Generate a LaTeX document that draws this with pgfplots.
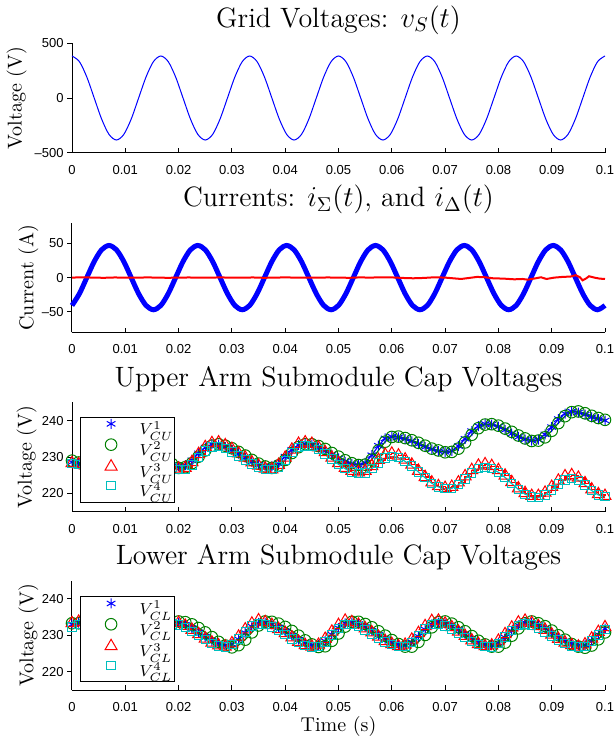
\documentclass[border=0pt]{standalone}
\usepackage{fontspec}
\usepackage{pgfplots}
\pgfplotsset{compat=1.18}
\usepackage{pgfplotstable}
\newfontfamily\tickfont{Liberation Sans}
\definecolor{mb}{rgb}{0,0,1}
\definecolor{mg}{rgb}{0,0.5,0}
\definecolor{mr}{rgb}{1,0,0}
\definecolor{mc}{rgb}{0,0.75,0.75}
\newcommand\legtext[1]{\makebox[17.5pt][l]{\smash{#1}}\rule[-2.1pt]{0pt}{9.6pt}}
\pgfplotsset{
  myaxis/.style={
    scale only axis, width=266.5pt, height=54.7pt,
    xmin=0, xmax=0.1,
    axis x line*=bottom, axis y line*=left,
    axis line style={line width=0.5pt, black},
    tick align=inside, major tick length=2.4pt,
    tick style={line width=0.5pt, black},
    ytick style={xshift=-2.4pt},
    xtick={0,0.01,0.02,0.03,0.04,0.05,0.06,0.07,0.08,0.09,0.1},
    xticklabels={0,0.01,0.02,0.03,0.04,0.05,0.06,0.07,0.08,0.09,0.1},
    tick label style={font=\tickfont\fontsize{6.5}{7.5}\selectfont},
    xticklabel style={yshift=-2.65pt},
    yticklabel style={xshift=-0.65pt},
    clip=false,
    every axis title/.style={at={(axis description cs:0.5,1)}, anchor=base, yshift=8pt, font=\fontsize{14}{16}\selectfont},
    label style={font=\fontsize{11.8}{13}\selectfont},
    legend cell align=left,
    legend image code/.code={\draw[##1] plot[only marks] coordinates {(0pt,2.7pt)}; \path (-15pt,0pt) (14pt,0pt);},
    legend style={anchor=north west, draw=black, line width=0.5pt, fill=white, inner xsep=0pt, inner ysep=0.8pt, row sep=0pt, column sep=0pt, nodes={inner sep=0pt, text depth=}, font=\fontsize{8}{8.5}\selectfont},
  },
  s1/.style={mb, line width=0.6pt, mark=asterisk, mark size=2.5pt, mark options={solid, line width=0.5pt}},
  s2/.style={mg, line width=0.6pt, mark=o, mark size=2.9pt, mark options={solid, line width=0.5pt}},
  s3/.style={mr, line width=0.6pt, const plot, mark=triangle, mark size=3.45pt, mark options={solid, line width=0.5pt}},
  s4/.style={mc, line width=0.6pt, mark=square, mark size=2.1pt, mark options={solid, line width=0.5pt}},
}
\begin{document}
\pgfplotstableread{
t v i
0 384 -40.7
0.001389 332.6 -23.5
0.002778 192 0
0.004167 0 23.5
0.005556 -192 40.7
0.006944 -332.6 47
0.008333 -384 40.7
0.009722 -332.6 23.5
0.011111 -192 0
0.0125 0 -23.5
0.013889 192 -40.7
0.015278 332.6 -47
0.016667 384 -40.7
0.018056 332.6 -23.5
0.019444 192 0
0.020833 0 23.5
0.022222 -192 40.7
0.023611 -332.6 47
0.025 -384 40.7
0.026389 -332.6 23.5
0.027778 -192 0
0.029167 0 -23.5
0.030556 192 -40.7
0.031944 332.6 -47
0.033333 384 -40.7
0.034722 332.6 -23.5
0.036111 192 0
0.0375 0 23.5
0.038889 -192 40.7
0.040278 -332.6 47
0.041667 -384 40.7
0.043056 -332.6 23.5
0.044444 -192 0
0.045833 0 -23.5
0.047222 192 -40.7
0.048611 332.6 -47
0.05 384 -40.7
0.051389 332.6 -23.5
0.052778 192 0
0.054167 0 23.5
0.055556 -192 40.7
0.056944 -332.6 47
0.058333 -384 40.7
0.059722 -332.6 23.5
0.061111 -192 0
0.0625 0 -23.5
0.063889 192 -40.7
0.065278 332.6 -47
0.066667 384 -40.7
0.068056 332.6 -23.5
0.069444 192 0
0.070833 0 23.5
0.072222 -192 40.7
0.073611 -332.6 47
0.075 -384 40.7
0.076389 -332.6 23.5
0.077778 -192 0
0.079167 0 -23.5
0.080556 192 -40.7
0.081944 332.6 -47
0.083333 384 -40.7
0.084722 332.6 -23.5
0.086111 192 0
0.0875 0 23.5
0.088889 -192 40.7
0.090278 -332.6 47
0.091667 -384 40.7
0.093056 -332.6 23.5
0.094444 -192 0
0.095833 0 -23.5
0.097222 192 -40.7
0.098611 332.6 -47
0.1 384 -40.7
}\gridtab
\pgfplotstableread{
t i
0 0
0.002 0.5
0.004 0
0.006 -0.3
0.008 0.2
0.01 0
0.012 -0.2
0.014 0.3
0.016 0
0.018 -0.3
0.02 0
0.022 0.2
0.024 -0.2
0.026 0
0.028 0.3
0.03 -0.2
0.032 0
0.034 0.2
0.036 -0.3
0.038 0
0.04 0.3
0.042 0
0.044 -0.2
0.046 0
0.048 0.2
0.05 0
0.052 -0.3
0.054 0.3
0.056 0
0.058 0.5
0.06 0.3
0.062 -0.5
0.064 -1
0.066 -0.5
0.068 0.5
0.07 0
0.0715 -1
0.073 -2
0.0745 -0.5
0.076 1
0.0775 0.5
0.079 -1
0.081 -1.5
0.083 -2.5
0.0845 -2
0.0855 -3
0.087 -1
0.088 0.5
0.089 -2
0.0905 0
0.092 1
0.0935 1.5
0.0945 3.5
0.0953 0.5
0.0958 -4
0.0965 -1
0.097 2
0.098 0
0.099 -1.5
0.1 -2
}\redcur
\pgfplotstableread{
t U1 U2 U3 U4
0 228.6 229.0 228.3 228.3
0.00125 228.3 228.5 228.0 227.9
0.0025 227.8 228.0 227.6 227.5
0.00375 227.5 227.6 227.3 227.3
0.005 228.0 227.7 227.8 227.6
0.00625 229.2 228.6 229.0 228.7
0.0075 230.7 230.0 230.8 230.2
0.00875 231.9 231.3 232.2 231.5
0.01 232.5 232.2 232.8 232.1
0.01125 232.4 232.5 232.6 232.1
0.0125 231.9 232.2 232.0 231.6
0.01375 231.1 231.5 231.0 230.8
0.015 230.2 230.7 230.0 229.9
0.01625 229.3 229.8 229.0 229.0
0.0175 228.5 228.9 228.2 228.1
0.01875 227.8 228.1 227.4 227.2
0.02 227.5 227.0 226.8 226.5
0.02125 227.8 227.2 227.0 226.6
0.0225 229.1 228.3 228.6 227.8
0.02375 231.0 230.1 230.8 229.9
0.025 232.6 231.8 232.7 231.7
0.02625 233.5 233.1 233.8 232.7
0.0275 233.4 233.5 234.0 232.8
0.02875 232.8 233.1 233.2 232.3
0.03 232.0 232.4 232.2 231.4
0.03125 230.9 231.4 231.0 230.3
0.0325 229.8 230.4 229.8 229.2
0.03375 228.7 229.2 228.5 228.1
0.035 227.9 228.2 227.6 227.2
0.03625 227.4 227.4 226.8 226.6
0.0375 227.4 227.0 226.6 226.5
0.03875 228.3 227.7 227.8 227.3
0.04 230.1 229.2 229.8 229.1
0.04125 232.0 231.1 232.0 231.2
0.0425 233.3 232.7 233.6 232.6
0.04375 233.6 233.5 234.0 233.0
0.045 233.3 233.5 233.6 232.8
0.04625 232.6 233.0 232.6 232.0
0.0475 231.7 232.2 231.3 230.8
0.04875 230.6 231.1 229.8 229.4
0.05 229.6 230.1 228.3 228.0
0.05125 228.7 229.1 227.0 226.8
0.0525 228.1 228.3 226.2 225.9
0.05375 227.8 227.8 225.8 225.4
0.055 228.4 227.9 226.2 225.6
0.05625 230.5 229.3 227.5 226.8
0.0575 233.1 231.8 229.2 228.4
0.05875 235.1 234.2 230.6 229.7
0.06 235.6 235.5 230.9 230.1
0.06125 235.4 235.6 230.4 229.8
0.0625 234.9 235.2 229.3 228.8
0.06375 234.3 234.6 227.9 227.5
0.065 233.5 233.9 226.2 225.9
0.06625 232.7 233.1 224.5 224.3
0.0675 232.1 232.3 223.0 222.8
0.06875 231.6 231.8 222.0 221.8
0.07 231.4 231.3 221.5 221.3
0.07125 231.7 231.4 221.8 221.4
0.0725 233.0 232.3 223.0 222.4
0.07375 235.0 234.0 224.7 224.0
0.075 237.1 236.1 226.4 225.6
0.07625 238.5 237.9 227.6 226.8
0.0775 239.1 238.9 228.0 227.2
0.07875 238.9 239.0 227.5 226.8
0.08 238.3 238.6 226.4 225.8
0.08125 237.4 237.8 224.9 224.4
0.0825 236.4 236.9 223.1 222.7
0.08375 235.5 235.9 221.4 221.1
0.085 234.8 235.1 220.1 219.8
0.08625 234.5 234.4 219.3 219.0
0.0875 234.8 234.5 219.3 218.9
0.08875 236.2 235.4 220.2 219.6
0.09 238.2 237.2 221.8 221.0
0.09125 240.4 239.3 223.5 222.6
0.0925 241.9 241.2 224.7 223.7
0.09375 242.5 242.3 225.0 224.1
0.095 242.2 242.5 224.3 223.6
0.09625 241.6 242.0 222.8 222.3
0.0975 240.9 241.3 221.1 220.8
0.09875 240.4 240.7 219.8 219.6
0.1 240.0 240.2 219.3 219.1
}\uppertab
\pgfplotstableread{
t L1 L2 L3 L4
0 233.0 233.3 233.3 232.3
0.00125 233.5 233.3 233.7 233.0
0.0025 233.5 233.7 233.5 233.0
0.00375 233.1 233.6 232.9 232.6
0.005 232.3 232.9 231.9 231.7
0.00625 231.3 232.0 230.8 230.6
0.0075 230.1 230.8 229.6 229.5
0.00875 229.0 229.5 228.5 228.5
0.01 228.1 228.3 227.7 227.7
0.01125 227.5 227.4 227.1 227.1
0.0125 227.3 226.9 227.2 227.0
0.01375 227.9 227.0 228.3 227.9
0.015 229.2 227.9 229.9 229.5
0.01625 231.0 229.5 231.8 231.2
0.0175 232.6 231.5 233.3 232.6
0.01875 233.4 233.1 233.9 233.1
0.02 233.4 233.8 233.4 232.8
0.02125 232.9 233.6 232.6 232.1
0.0225 232.0 233.0 231.5 231.1
0.02375 230.8 232.0 230.3 229.9
0.025 229.6 230.8 229.1 228.8
0.02625 228.5 229.5 228.0 227.8
0.0275 227.7 228.2 227.2 227.1
0.02875 227.3 227.2 226.9 226.8
0.03 227.6 226.7 227.8 227.4
0.03125 228.9 227.3 229.6 229.0
0.0325 230.7 228.8 231.6 230.9
0.03375 232.4 230.8 233.2 232.5
0.035 233.4 232.7 234.1 233.1
0.03625 233.4 233.8 233.6 232.9
0.0375 233.0 233.7 232.8 232.3
0.03875 232.1 233.2 231.7 231.3
0.04 231.1 232.3 230.6 230.2
0.04125 229.9 231.2 229.4 229.0
0.0425 228.8 229.9 228.2 228.0
0.04375 227.9 228.6 227.3 227.2
0.045 227.4 227.5 226.9 226.8
0.04625 227.4 226.8 227.4 226.9
0.0475 228.4 227.0 229.0 228.2
0.04875 230.2 228.5 231.0 230.1
0.05 232.0 230.5 232.8 231.9
0.05125 233.3 232.4 234.0 233.0
0.0525 233.5 233.7 233.6 233.0
0.05375 233.1 233.7 232.9 232.4
0.055 232.3 233.1 231.9 231.5
0.05625 231.2 232.2 230.8 230.4
0.0575 230.1 231.1 229.6 229.3
0.05875 229.0 229.9 228.4 228.2
0.06 228.0 228.7 227.6 227.4
0.06125 227.5 227.6 227.0 226.9
0.0625 227.3 226.9 227.4 226.9
0.06375 228.1 226.9 228.8 228.1
0.065 229.7 228.2 230.6 229.9
0.06625 231.6 230.1 232.5 231.7
0.0675 233.0 232.2 233.9 232.9
0.06875 233.5 233.6 234.0 233.1
0.07 233.2 233.8 233.2 232.6
0.07125 232.5 233.2 232.2 231.7
0.0725 231.5 232.2 231.0 230.6
0.07375 230.3 231.1 229.8 229.4
0.075 229.1 229.8 228.6 228.3
0.07625 228.1 228.5 227.6 227.4
0.0775 227.5 227.5 227.0 226.9
0.07875 227.3 226.9 227.2 226.8
0.08 227.9 226.9 228.5 227.8
0.08125 229.4 228.0 230.3 229.5
0.0825 231.2 229.9 232.1 231.3
0.08375 232.7 231.9 233.5 232.7
0.085 233.5 233.3 234.0 233.1
0.08625 233.4 233.8 233.4 232.8
0.0875 232.8 233.3 232.5 232.0
0.08875 231.9 232.5 231.5 230.9
0.09 230.6 231.3 230.2 229.8
0.09125 229.5 230.0 229.0 228.7
0.0925 228.4 228.8 228.0 227.8
0.09375 227.8 227.6 227.3 227.1
0.095 227.4 226.9 226.9 226.8
0.09625 227.4 226.6 227.5 227.0
0.0975 228.5 227.2 229.1 228.4
0.09875 230.2 228.9 230.9 230.1
0.1 231.8 230.8 232.2 231.6
}\lowertab
\begin{tikzpicture}
\useasboundingbox (0pt,0pt) rectangle (307.5pt,-370pt);
% Panel 1
\begin{axis}[myaxis, at={(36pt,-76.35pt)}, anchor=south west,
  ymin=-500, ymax=500, ytick={-500,0,500}, yticklabels={–500,0,500},
  title={Grid Voltages: $v_S(t)$},
  ylabel={Voltage (V)},
  every axis y label/.style={at={(axis description cs:-0.0944,0.5)}, rotate=90, anchor=base}]
\addplot[mb, line width=0.5pt, smooth] table[x=t, y=v] {\gridtab};
\end{axis}
% Panel 2
\begin{axis}[myaxis, at={(36pt,-166.15pt)}, anchor=south west,
  ymin=-80, ymax=80, ytick={-50,0,50}, yticklabels={–50,0,50},
  title={Currents: $i_\Sigma(t)$, and $i_\Delta(t)$},
  ylabel={Current (A)},
  every axis y label/.style={at={(axis description cs:-0.0726,0.5)}, rotate=90, anchor=base}]
\addplot[mb, line width=2.5pt, smooth] table[x=t, y=i] {\gridtab};
\addplot[mr, line width=1pt] table[x=t, y=i] {\redcur};
\end{axis}
% Panel 3
\begin{axis}[myaxis, at={(36pt,-255.85pt)}, anchor=south west,
  ymin=215, ymax=245, ytick={220,230,240}, yticklabels={220,230,240},
  title={Upper Arm Submodule Cap Voltages},
  ylabel={Voltage (V)},
  every axis y label/.style={at={(axis description cs:-0.0756,0.5)}, rotate=90, anchor=base},
  legend style={at={(axis description cs:0.015,0.868)}}]
\addplot[s1] table[x=t, y=U1] {\uppertab};
\addlegendentry{\legtext{$V_{CU}^{1}$}}
\addplot[s2] table[x=t, y=U2] {\uppertab};
\addlegendentry{\legtext{$V_{CU}^{2}$}}
\addplot[s3] table[x=t, y=U3] {\uppertab};
\addlegendentry{\legtext{$V_{CU}^{3}$}}
\addplot[s4] table[x=t, y=U4] {\uppertab};
\addlegendentry{\legtext{$V_{CU}^{4}$}}
\end{axis}
% Panel 4
\begin{axis}[myaxis, at={(36pt,-345pt)}, anchor=south west,
  ymin=215, ymax=245, ytick={220,230,240}, yticklabels={220,230,240},
  title={Lower Arm Submodule Cap Voltages},
  ylabel={Voltage (V)}, xlabel={Time (s)},
  every axis y label/.style={at={(axis description cs:-0.0726,0.5)}, rotate=90, anchor=base},
  every axis x label/.style={at={(axis description cs:0.5,-0.3826)}, anchor=base},
  legend style={at={(axis description cs:0.015,0.856)}}]
\addplot[s1] table[x=t, y=L1] {\lowertab};
\addlegendentry{\legtext{$V_{CL}^{1}$}}
\addplot[s2] table[x=t, y=L2] {\lowertab};
\addlegendentry{\legtext{$V_{CL}^{2}$}}
\addplot[s3] table[x=t, y=L3] {\lowertab};
\addlegendentry{\legtext{$V_{CL}^{3}$}}
\addplot[s4] table[x=t, y=L4] {\lowertab};
\addlegendentry{\legtext{$V_{CL}^{4}$}}
\end{axis}
\end{tikzpicture}
\end{document}
